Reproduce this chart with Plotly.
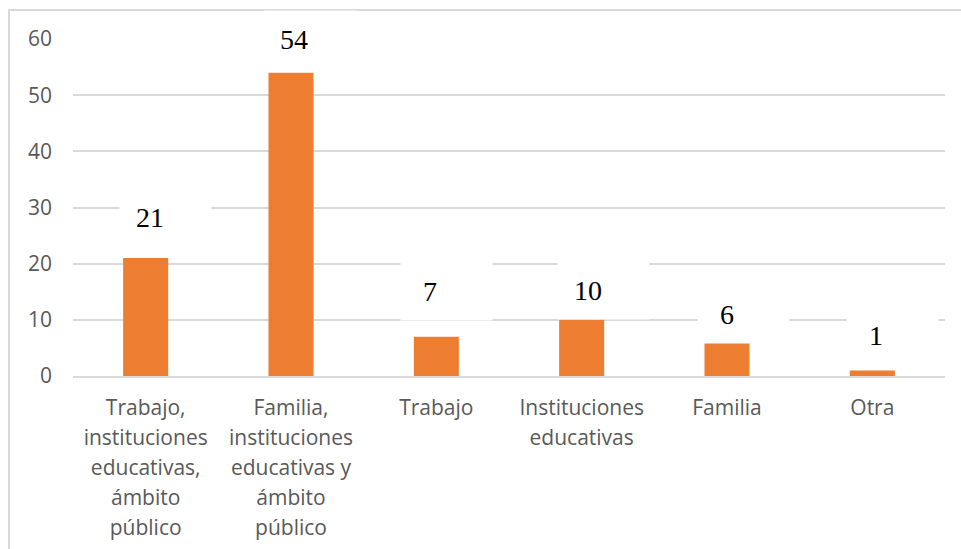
import plotly.graph_objects as go

# Survey results: where respondents reported the situation (percent)
categories = [
    "Trabajo,<br>instituciones<br>educativas,<br>ámbito<br>público",
    "Familia,<br>instituciones<br>educativas y<br>ámbito<br>público",
    "Trabajo",
    "Instituciones<br>educativas",
    "Familia",
    "Otra",
]
values = [21, 54, 7, 10, 6, 1]
y_ticks = [0, 10, 20, 30, 40, 50, 60]

# pixel nudges for each value label (x, y) relative to the bar top centre
label_nudge = [(4, 41), (3, 33), (-6, 45), (6, 29), (0, 28), (4, 35)]
# offset of the white label box centre from its text centre
BOX_DX = 16

BAR = "#ED7D31"
GRID = "#D9D9D9"
AXIS_TEXT = "#595959"


def tick_text(label):
    # wider line spacing: outer font sets the line height, inner span the glyph size
    return "<br>".join(
        f'<span style="font-size:21px">{part}</span>' for part in label.split("<br>")
    )


fig = go.Figure(
    go.Bar(
        x=list(range(len(categories))),
        y=values,
        marker=dict(color=BAR, line=dict(width=0)),
        hoverinfo="skip",
    )
)

for i, (v, (dx, dy)) in enumerate(zip(values, label_nudge)):
    # white label box hiding the gridlines behind the value
    fig.add_annotation(
        x=i, y=v, xref="x", yref="y",
        text=" ", showarrow=False,
        xanchor="center", yanchor="middle",
        xshift=dx + BOX_DX, yshift=dy,
        width=91, height=57, borderpad=0,
        bgcolor="white",
    )
    fig.add_annotation(
        x=i, y=v, xref="x", yref="y",
        text=str(v),
        showarrow=False,
        xanchor="center", yanchor="middle",
        xshift=dx, yshift=dy,
        font=dict(family="Liberation Serif, Times New Roman, serif", size=28, color="black"),
    )

# outer chart-area frame
fig.add_shape(
    type="rect", xref="paper", yref="paper",
    x0=-0.0734, x1=1.03, y0=-0.6, y1=1.086,
    line=dict(color=GRID, width=2), fillcolor="rgba(0,0,0,0)", layer="below",
)

fig.update_layout(
    width=961, height=549,
    margin=dict(l=73, r=16, t=39, b=173),
    paper_bgcolor="white", plot_bgcolor="white",
    bargap=0.69,
    showlegend=False,
    font=dict(family="Open Sans, sans-serif", size=21, color=AXIS_TEXT),
    xaxis=dict(
        tickmode="array",
        tickvals=list(range(len(categories))),
        ticktext=[tick_text(c) for c in categories],
        range=[-0.5, len(categories) - 0.5],
        showgrid=False, zeroline=False,
        showline=True, linecolor=GRID, linewidth=1.5,
        ticks="", ticklabelstandoff=10,
        tickfont=dict(size=23, color=AXIS_TEXT),
        automargin=False,
        fixedrange=True,
    ),
    yaxis=dict(
        range=[0, 60],
        tickmode="array", tickvals=y_ticks,
        showgrid=True, gridcolor=GRID, gridwidth=1.5,
        zeroline=False, showline=False,
        ticks="", ticklabelstandoff=20,
        tickfont=dict(size=21, color=AXIS_TEXT),
        automargin=False,
        fixedrange=True,
    ),
)

fig.write_html("out.html")
